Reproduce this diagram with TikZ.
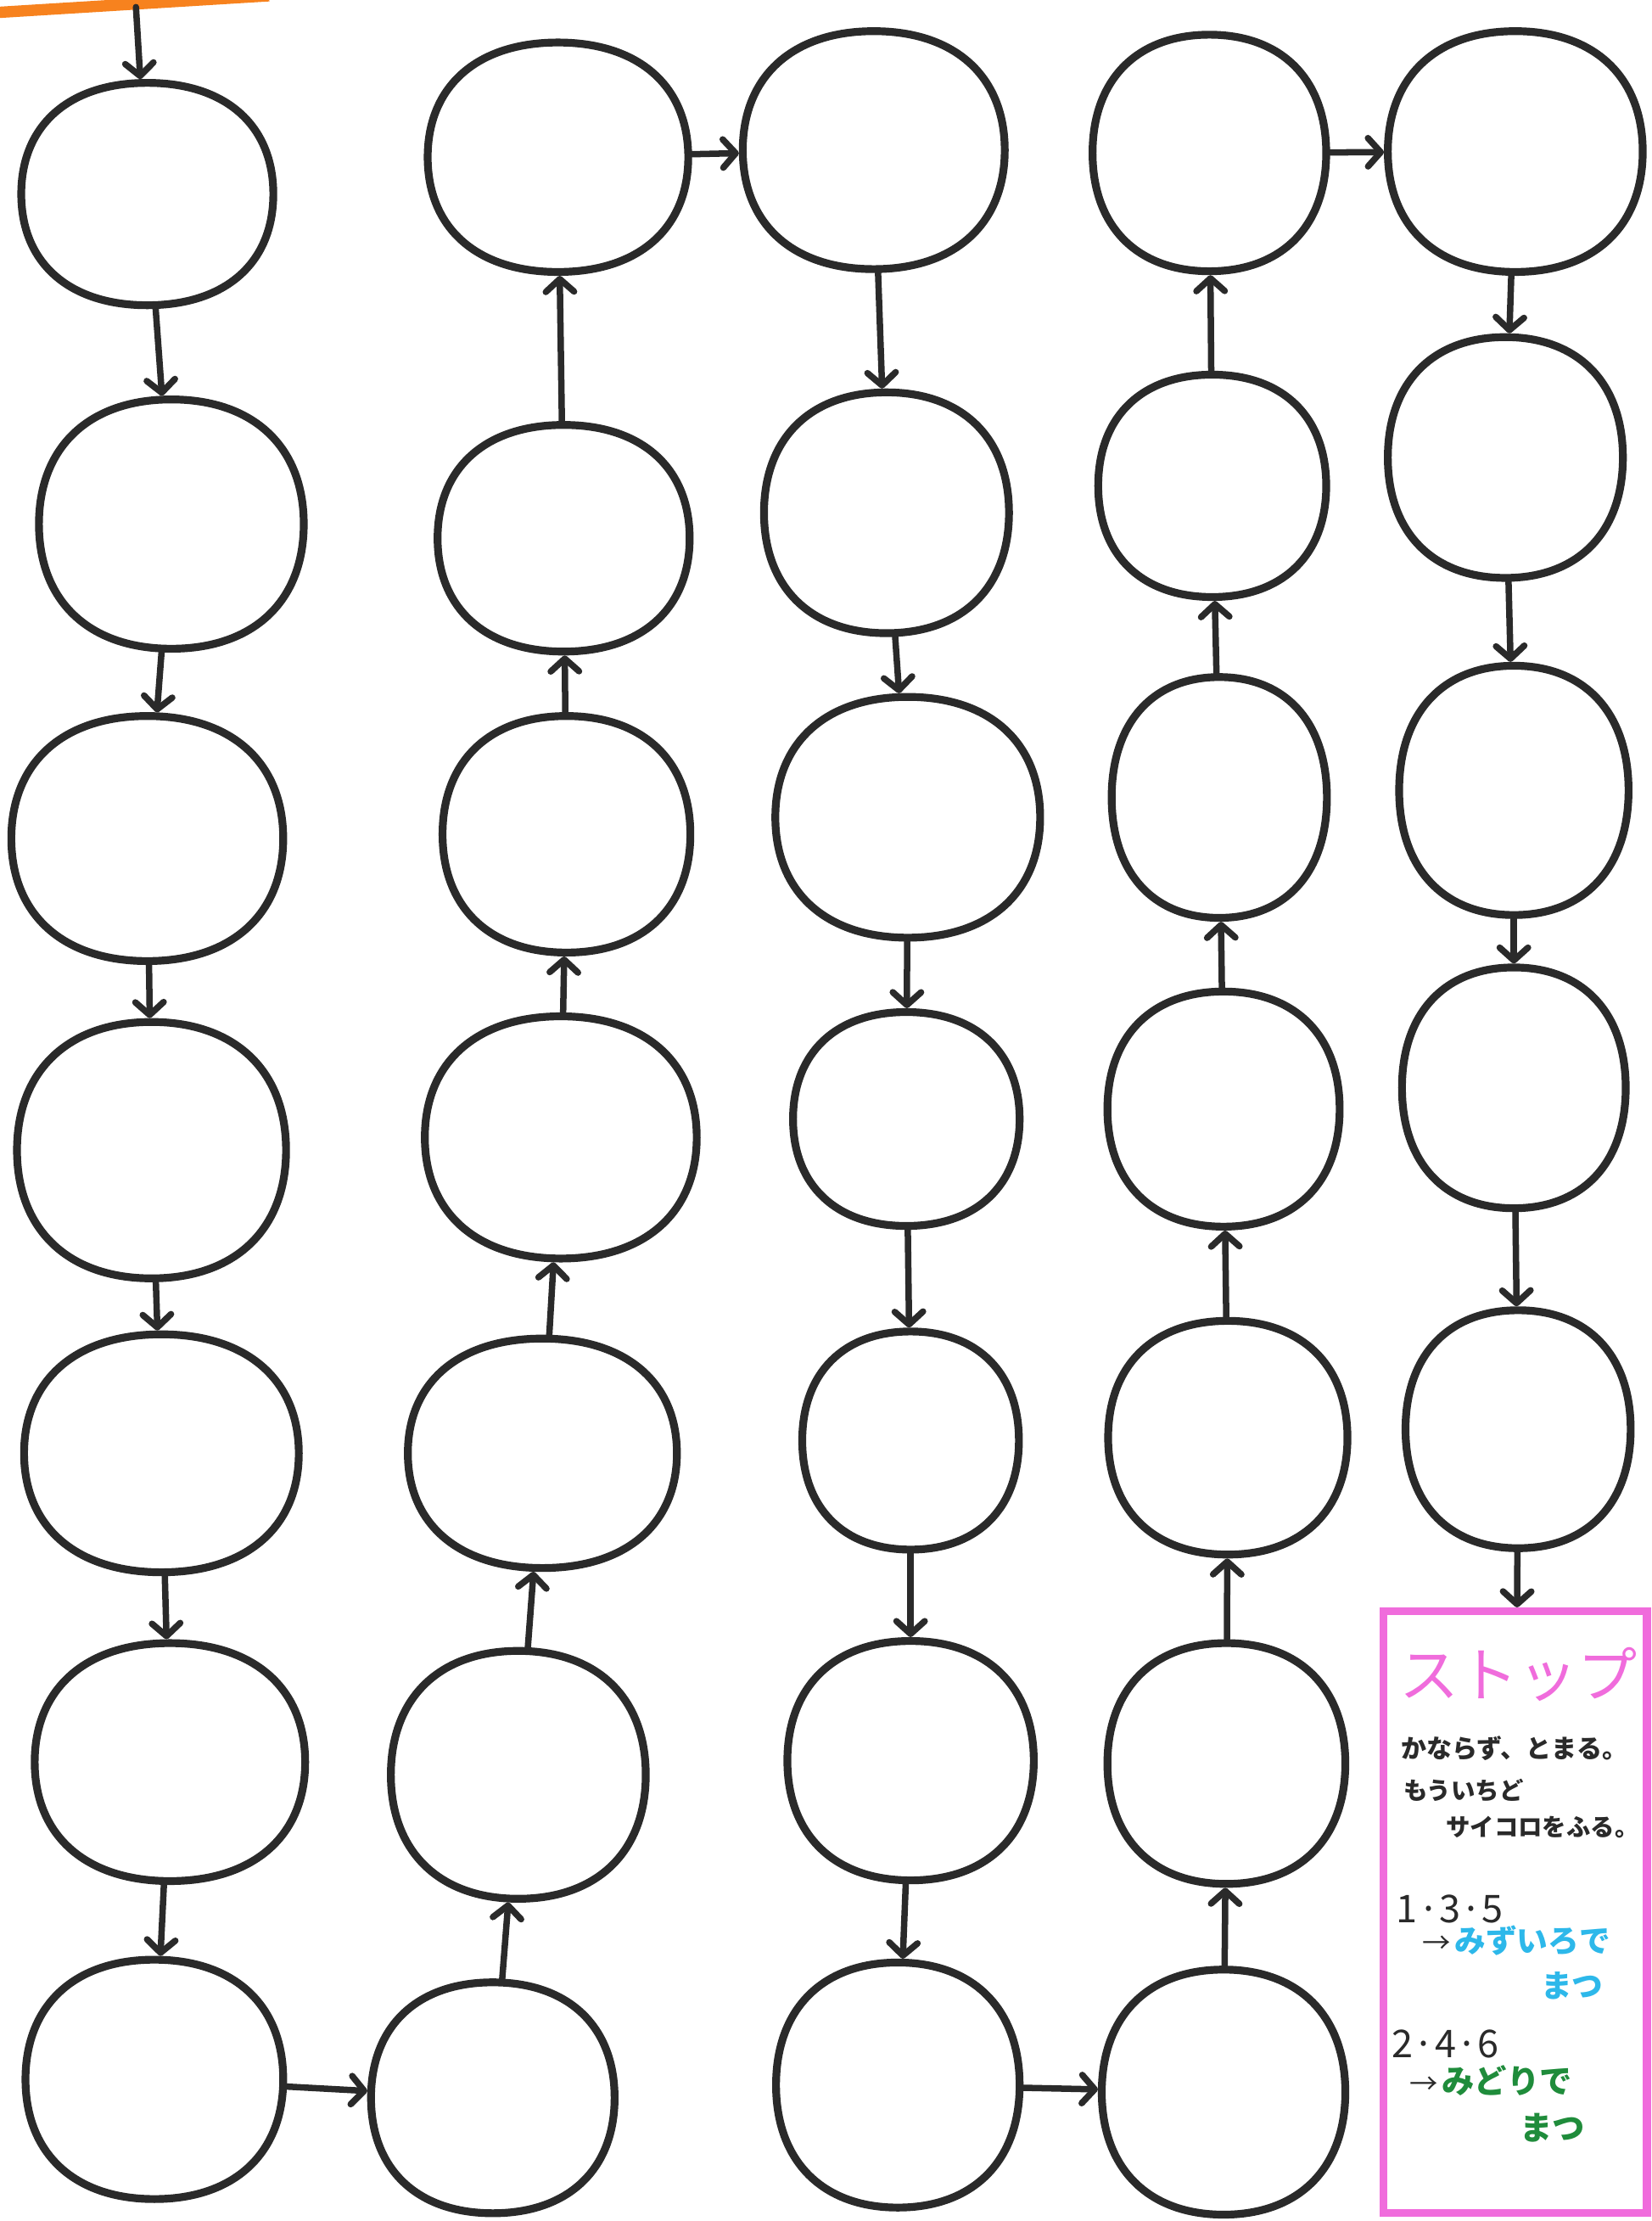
\documentclass[tikz,border=0pt]{standalone}
\usepackage{fontspec}
\newfontfamily\jp{Noto Sans CJK JP}
\usetikzlibrary{shapes.geometric,arrows.meta}
\definecolor{ink}{HTML}{2A2A2A}
\definecolor{stoppink}{HTML}{F06CDC}
\definecolor{mizu}{HTML}{2DB8EA}
\definecolor{midori}{HTML}{1F8C3B}
\definecolor{orangeline}{HTML}{F7821E}
\def\kk{0.62}
\newcommand\ball[5]{%
  \node[ballst, minimum width=#4, minimum height=#5] (#1) at (#2,#3) {};
  \draw[ballline]
    ({#2},{#3-#5/2}) .. controls ({#2+\kk*#4/2},{#3-#5/2}) and ({#2+#4/2},{#3-\kk*#5/2}) ..
    ({#2+#4/2},{#3}) .. controls ({#2+#4/2},{#3+\kk*#5/2}) and ({#2+\kk*#4/2},{#3+#5/2}) ..
    ({#2},{#3+#5/2}) .. controls ({#2-\kk*#4/2},{#3+#5/2}) and ({#2-#4/2},{#3+\kk*#5/2}) ..
    ({#2-#4/2},{#3}) .. controls ({#2-#4/2},{#3-\kk*#5/2}) and ({#2-\kk*#4/2},{#3-#5/2}) ..
    cycle;}
\begin{document}
\begin{tikzpicture}[x=1pt,y=-1pt,
  ballst/.style={line width=5.5pt, ellipse, inner sep=0pt},
  ballline/.style={draw=ink, line width=5.5pt},
  arr/.style={draw=ink, line width=4.5pt, line cap=round,
    -{Straight Barb[length=9pt, width=20pt, line cap=round, line join=round]}},
  jptext/.style={anchor=west, inner sep=0pt, font=\jp}]
\useasboundingbox (0,0) rectangle (1166,1568);
\fill[white] (0,0) rectangle (1166,1568);
\draw[orangeline, line width=8pt] (-5,9) -- (190,-3);
% column 1
\ball{c11}{104}{137}{178}{157}
\ball{c12}{121}{370}{187}{176}
\ball{c13}{104}{592}{192}{173}
\ball{c14}{107}{812}{190}{181}
\ball{c15}{114}{1026}{194}{168}
\ball{c16}{120}{1244}{191}{168}
\ball{c17}{109}{1468}{182}{169}
% column 2
\ball{c21}{394}{111}{184}{162}
\ball{c22}{398}{380}{178}{160}
\ball{c23}{400}{589}{175}{167}
\ball{c24}{396}{803}{192}{171}
\ball{c25}{383}{1026}{190}{162}
\ball{c26}{366}{1253}{180}{175}
\ball{c27}{348}{1481}{172}{163}
% column 3
\ball{c31}{617}{106}{185}{168}
\ball{c32}{626}{362}{173}{170}
\ball{c33}{641}{577}{187}{170}
\ball{c34}{640}{790}{160}{151}
\ball{c35}{643}{1017}{153}{154}
\ball{c36}{643}{1243}{174}{169}
\ball{c37}{634}{1472}{172}{173}
% column 4
\ball{c41}{854}{108}{165}{167}
\ball{c42}{856}{343}{161}{157}
\ball{c43}{861}{563}{152}{170}
\ball{c44}{864}{783}{164}{166}
\ball{c45}{867}{1015}{169}{165}
\ball{c46}{866}{1245}{168}{170}
\ball{c47}{864}{1477}{172}{173}
% column 5
\ball{c51}{1070}{107}{180}{170}
\ball{c52}{1063}{323}{166}{170}
\ball{c53}{1069}{558}{162}{176}
\ball{c54}{1069}{768}{158}{170}
\ball{c55}{1072}{1009}{159}{168}
% stop box
\node[draw=stoppink, line width=5.5pt, rectangle, minimum width=186, minimum height=425, inner sep=0pt] (stop) at (1070,1350) {};
\coordinate (start) at (96,5);
% arrows
\draw[arr] (start) -- (c11);
\draw[arr] (c11) -- (c12);
\draw[arr] (c12) -- (c13);
\draw[arr] (c13) -- (c14);
\draw[arr] (c14) -- (c15);
\draw[arr] (c15) -- (c16);
\draw[arr] (c16) -- (c17);
\draw[arr] (c17) -- (c27);
\draw[arr] (c27) -- (c26);
\draw[arr] (c26) -- (c25);
\draw[arr] (c25) -- (c24);
\draw[arr] (c24) -- (c23);
\draw[arr] (c23) -- (c22);
\draw[arr] (c22) -- (c21);
\draw[arr] (c21) -- (c31);
\draw[arr] (c31) -- (c32);
\draw[arr] (c32) -- (c33);
\draw[arr] (c33) -- (c34);
\draw[arr] (c34) -- (c35);
\draw[arr] (c35) -- (c36);
\draw[arr] (c36) -- (c37);
\draw[arr] (c37) -- (c47);
\draw[arr] (c47) -- (c46);
\draw[arr] (c46) -- (c45);
\draw[arr] (c45) -- (c44);
\draw[arr] (c44) -- (c43);
\draw[arr] (c43) -- (c42);
\draw[arr] (c42) -- (c41);
\draw[arr] (c41) -- (c51);
\draw[arr] (c51) -- (c52);
\draw[arr] (c52) -- (c53);
\draw[arr] (c53) -- (c54);
\draw[arr] (c54) -- (c55);
\draw[arr] (c55) -- (stop);
% texts
\node[jptext, text=stoppink, font=\jp\fontsize{42}{46}\selectfont] (t1) at (988,1182) {ストップ};
\node[jptext, text=ink, font=\jp\bfseries\fontsize{18}{20}\selectfont] (t2) at (989,1234) {かならず、とまる。};
\node[jptext, text=ink, font=\jp\bfseries\fontsize{17}{20}\selectfont] (t3) at (991,1264) {もういちど};
\node[jptext, text=ink, font=\jp\bfseries\fontsize{17}{20}\selectfont] (t4) at (1021,1290) {サイコロをふる。};
\node[jptext, text=ink, font=\jp\fontsize{27}{29}\selectfont] (t5) at (986,1348) {1·3·5};
\node[jptext, text=ink, font=\jp\fontsize{20}{22}\selectfont] (t6) at (1004,1373) {→};
\node[jptext, text=mizu, font=\jp\bfseries\fontsize{22}{24}\selectfont] (t7) at (1027,1370) {みずいろで};
\node[jptext, text=mizu, font=\jp\bfseries\fontsize{22}{24}\selectfont] (t8) at (1088,1402) {まつ};
\node[jptext, text=ink, font=\jp\fontsize{27}{29}\selectfont] (t9) at (983,1443) {2·4·6};
\node[jptext, text=ink, font=\jp\fontsize{20}{22}\selectfont] (t10) at (995,1472) {→};
\node[jptext, text=midori, font=\jp\bfseries\fontsize{23}{25}\selectfont] (t11) at (1018,1469) {みどりで};
\node[jptext, text=midori, font=\jp\bfseries\fontsize{23}{25}\selectfont] (t12) at (1073,1502) {まつ};
\end{tikzpicture}
\end{document}
